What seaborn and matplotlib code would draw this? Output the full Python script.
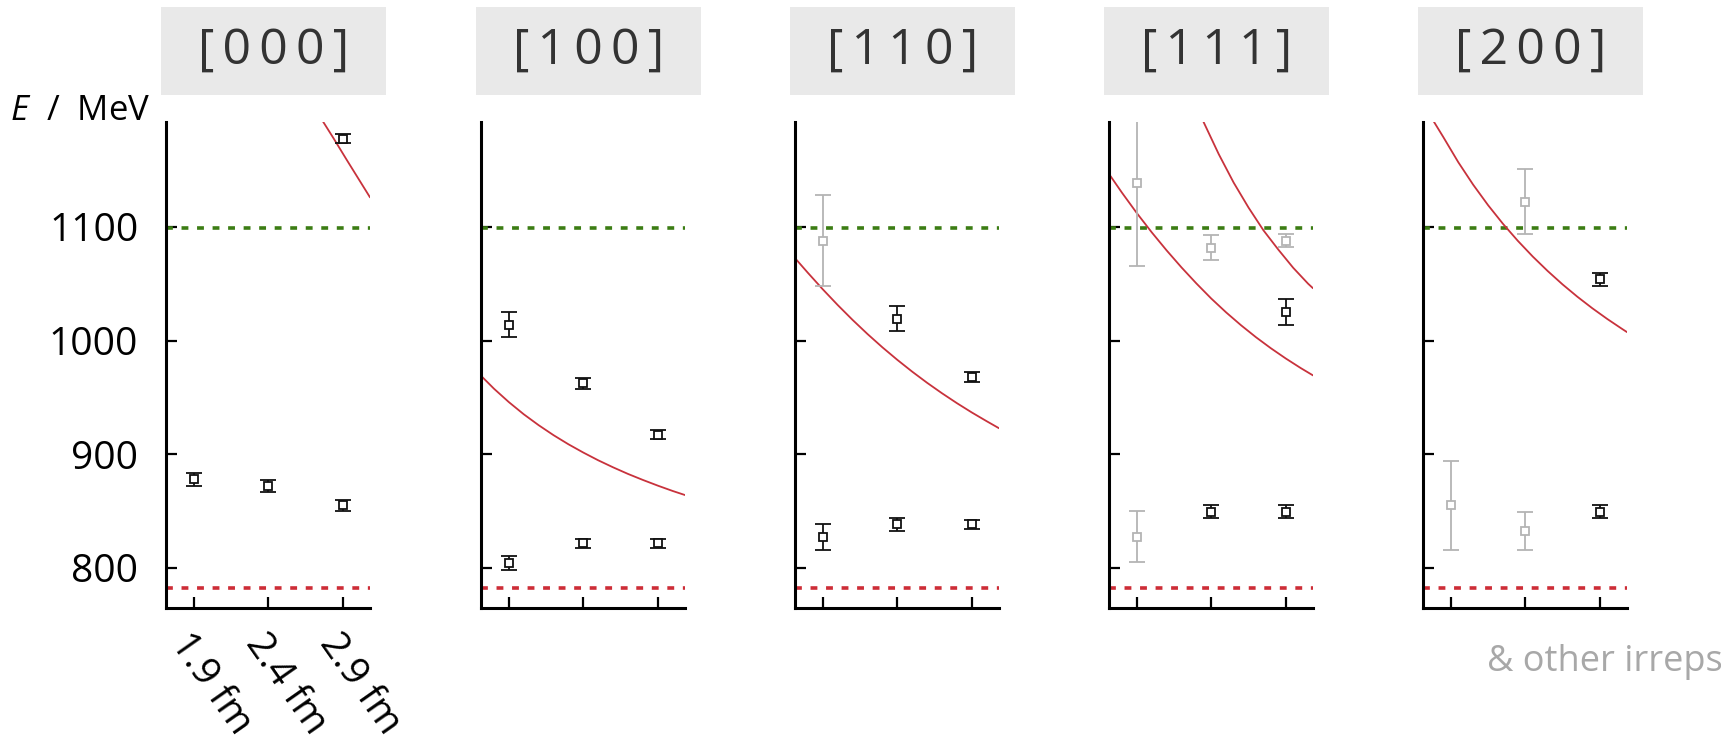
import numpy as np
import pandas as pd
import matplotlib
matplotlib.use("Agg")
import matplotlib.pyplot as plt
from matplotlib.patches import Rectangle
import seaborn as sns

# ---------------- data ----------------
momenta = ["[000]", "[100]", "[110]", "[111]", "[200]"]
L_values = [1.9, 2.4, 2.9]
L_labels = ["1.9 fm", "2.4 fm", "2.9 fm"]
y_ticks = [800, 900, 1000, 1100]

thresh_pipi = 782.0
thresh_KK = 1099.0

# finite-volume energy levels (panel index, box size, energy, error, grey?)
lvl_panel = [0, 0, 0, 0,
             1, 1, 1, 1, 1, 1,
             2, 2, 2, 2, 2, 2,
             3, 3, 3, 3, 3, 3, 3,
             4, 4, 4, 4, 4]
lvl_L = [1.9, 2.4, 2.9, 2.9,
         1.9, 1.9, 2.4, 2.4, 2.9, 2.9,
         1.9, 1.9, 2.4, 2.4, 2.9, 2.9,
         1.9, 1.9, 2.4, 2.9, 2.4, 2.9, 2.9,
         1.9, 2.4, 2.4, 2.9, 2.9]
lvl_E = [877.7, 871.9, 855.1, 1177.7,
         1014.0, 804.4, 962.4, 821.5, 917.0, 821.5,
         1087.7, 827.3, 1019.0, 838.2, 967.7, 838.2,
         1138.4, 827.3, 1081.8, 1087.7, 849.3, 1024.9, 849.3,
         855.0, 1122.3, 832.4, 1053.7, 849.5]
lvl_err = [5.9, 5.1, 4.7, 4.1,
           11.0, 6.0, 5.0, 4.0, 4.0, 4.0,
           40.0, 11.6, 11.0, 5.5, 4.4, 3.7,
           73.0, 22.4, 11.3, 5.6, 5.9, 11.4, 5.9,
           39.4, 28.2, 17.0, 6.0, 5.6]
lvl_grey = [False, False, False, False,
            False, False, False, False, False, False,
            True, False, False, False, False, False,
            True, True, True, True, False, False, False,
            True, True, True, False, False]

# non-interacting pi-pi energy curves
c0_L = [2.766, 2.838, 2.928, 3.083]
c0_E = [1193.0, 1178.0, 1158.7, 1126.0]
c1_L = [1.713, 1.8, 1.9, 2.0, 2.1, 2.2, 2.3, 2.4, 2.5, 2.6, 2.7, 2.8, 2.9, 3.0, 3.083]
c1_E = [969.0, 957.6, 945.8, 935.1, 925.5, 916.7, 908.7, 901.4, 894.6, 888.4,
        882.6, 877.3, 872.3, 867.6, 864.0]
c2_L = [1.713, 1.8, 1.9, 2.0, 2.1, 2.2, 2.3, 2.4, 2.5, 2.6, 2.7, 2.8, 2.9, 3.0, 3.083]
c2_E = [1072.5, 1059.5, 1045.0, 1031.2, 1018.1, 1005.7, 994.0, 983.0, 972.6,
        962.8, 953.6, 944.9, 936.7, 929.0, 922.8]
c3a_L = [1.713, 1.8, 1.9, 2.0, 2.1, 2.2, 2.3, 2.4, 2.5, 2.6, 2.7, 2.8, 2.9, 3.0, 3.083]
c3a_E = [1146.6, 1130.1, 1112.1, 1095.2, 1079.3, 1064.3, 1050.2, 1036.9, 1024.7,
         1013.4, 1002.9, 993.2, 984.2, 975.8, 969.3]
c3b_L = [2.347, 2.45, 2.55, 2.65, 2.75, 2.85, 2.95, 3.05, 3.083]
c3b_E = [1192.6, 1164.0, 1139.0, 1117.0, 1097.0, 1080.0, 1064.0, 1050.0, 1046.0]
c4_L = [1.777, 1.85, 1.95, 2.05, 2.15, 2.25, 2.35, 2.45, 2.55, 2.65, 2.75, 2.85,
        2.95, 3.05, 3.083]
c4_E = [1194.5, 1178.9, 1156.9, 1137.1, 1119.1, 1102.7, 1087.7, 1073.9, 1061.2,
        1049.4, 1038.5, 1028.4, 1019.0, 1010.2, 1007.4]

curve_sets = [(0, 0, c0_L, c0_E), (1, 0, c1_L, c1_E), (2, 0, c2_L, c2_E),
              (3, 0, c3a_L, c3a_E), (3, 1, c3b_L, c3b_E), (4, 0, c4_L, c4_E)]

levels = pd.DataFrame({"panel": lvl_panel, "L": lvl_L, "E": lvl_E,
                       "err": lvl_err, "grey": lvl_grey})
curves = pd.concat([pd.DataFrame({"panel": p, "branch": b, "L": Ls, "E": Es})
                    for p, b, Ls, Es in curve_sets], ignore_index=True)

# ---------------- style ----------------
sns.set_style("ticks")
plt.rcParams["font.family"] = ["Open Sans", "DejaVu Sans"]
plt.rcParams["mathtext.fontset"] = "custom"
plt.rcParams["mathtext.it"] = "Open Sans:italic"
plt.rcParams["mathtext.rm"] = "Open Sans"

W, H = 1721, 748
fig = plt.figure(figsize=(W / 100, H / 100), dpi=100)

lefts = [166, 481, 795, 1109, 1423]
ax_w, ax_top, ax_bot = 204, 122, 608

black = "#111111"
grey = "#b4b4b4"
red_curve = "#c8323c"
red_dash = "#cd2d37"
green_dash = "#3c7d14"

for i, name in enumerate(momenta):
    left = lefts[i]
    ax = fig.add_axes([left / W, 1 - ax_bot / H, ax_w / W, (ax_bot - ax_top) / H])
    ax.set_xlim(1.713, 3.083)
    ax.set_ylim(764.6, 1192.3)

    ax.axhline(thresh_pipi, color=red_dash, lw=2.6, ls=(0, (1.9, 2.4)),
               dash_capstyle="butt", zorder=1)
    ax.axhline(thresh_KK, color=green_dash, lw=2.6, ls=(0, (1.9, 2.4)),
               dash_capstyle="butt", zorder=1)

    sub_c = curves[curves.panel == i]
    if len(sub_c):
        sns.lineplot(data=sub_c, x="L", y="E", units="branch", estimator=None,
                     sort=False, color=red_curve, lw=1.3, ax=ax, legend=False,
                     zorder=2)

    sub = levels[levels.panel == i]
    for is_grey, col in ((True, grey), (False, black)):
        s = sub[sub.grey == is_grey]
        if len(s):
            ax.errorbar(s.L, s.E, yerr=s.err, fmt="s", ms=5.6, mfc="white",
                        mec=col, mew=1.3, ecolor=col, elinewidth=1.3,
                        capsize=5.8, capthick=1.6, zorder=3)

    sns.despine(ax=ax)
    for sp in ("left", "bottom"):
        ax.spines[sp].set_linewidth(2.2)
        ax.spines[sp].set_color("black")
    ax.set_xticks(L_values)
    ax.set_yticks(y_ticks)
    ax.tick_params(direction="in", length=8, width=1.6, color="black",
                   labelcolor="black")
    ax.set_xlabel("")
    ax.set_ylabel("")
    if i == 0:
        ax.set_yticklabels([str(v) for v in y_ticks], fontsize=28)
        ax.tick_params(axis="y", pad=20)
        ax.set_xticklabels(L_labels, fontsize=28, rotation=-55, ha="left",
                           va="top", rotation_mode="anchor")
        ax.tick_params(axis="x", pad=13)
    else:
        ax.set_yticklabels([])
        ax.set_xticklabels([])

    # title box
    bx0, bw, by0, bh = left - 5, 225, 7, 88
    fig.patches.append(Rectangle((bx0 / W, 1 - (by0 + bh) / H), bw / W, bh / H,
                                 transform=fig.transFigure, facecolor="#e9e9e9",
                                 edgecolor="none", zorder=0))
    fig.text((bx0 + bw / 2) / W, 1 - (by0 + bh / 2) / H,
             "\u2009".join(name), fontsize=36, color="#333333",
             ha="center", va="center",
             family=["Open Sans", "DejaVu Sans"])

fig.text(150 / W, 1 - 111 / H, "$E$  /  MeV", fontsize=25, ha="right",
         va="center", color="black")
fig.text(1723 / W, 1 - 662 / H, "& other irreps", fontsize=26, ha="right",
         va="center", color="#a8a8a8")

fig.savefig("out.png", dpi=100)
